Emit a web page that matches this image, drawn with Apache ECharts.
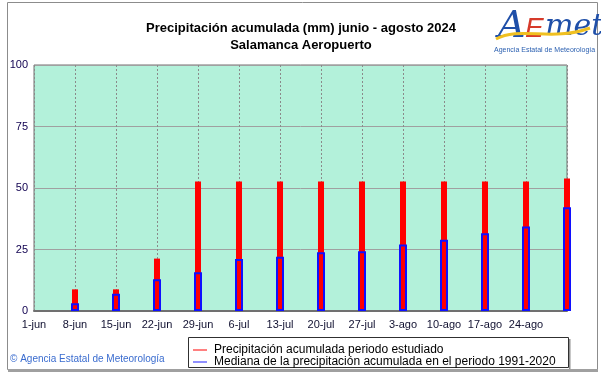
<!DOCTYPE html>
<html><head><meta charset="utf-8">
<script src="https://cdn.jsdelivr.net/npm/echarts@6/dist/echarts.min.js"></script>
<style>html,body{margin:0;padding:0;background:#fff}#c{width:601px;height:374px}</style>
</head><body><div id="c"></div>
<script>
var tickLabels = ['1-jun','8-jun','15-jun','22-jun','29-jun','6-jul','13-jul','20-jul','27-jul','3-ago','10-ago','17-ago','24-ago'];
var barDates = ['8-jun','15-jun','22-jun','29-jun','6-jul','13-jul','20-jul','27-jul','3-ago','10-ago','17-ago','24-ago','31-ago'];
var barDays = [7,14,21,28,35,42,49,56,63,70,77,84,91];
var observed = [8.8,8.8,21.3,52.6,52.6,52.6,52.6,52.6,52.6,52.6,52.6,52.6,53.9];
var median = [3.1,7.0,12.9,15.8,21.1,22.1,23.9,24.3,27.0,29.0,31.6,34.3,42.2];
var yTicks = [0,25,50,75,100];
var nameObs = 'Precipitación acumulada periodo estudiado';
var nameMed = 'Mediana de la precipitación acumulada en el periodo 1991-2020';

var chart = echarts.init(document.getElementById('c'), null, {renderer:'canvas'});
function pairs(vals){ return barDays.map(function(d,i){ return [d, vals[i]]; }); }
var font = 'Arial, "Liberation Sans", sans-serif';
var xAxisBase = {
  type:'value', min:0, max:91, interval:7,
  axisLine:{show:true, lineStyle:{color:'#707070', width:2}},
  axisTick:{show:false},
  axisLabel:{color:'#101030', fontFamily:font, fontSize:11, margin:8,
    formatter:function(v){ var i=Math.round(v/7); return tickLabels[i]||''; }},
  splitLine:{show:true, lineStyle:{color:'#8a8a8a', type:[2,2], width:1}}
};
chart.setOption({
  animation:false,
  backgroundColor:'#ffffff',
  title:{text:'Precipitación acumulada (mm) junio - agosto 2024\nSalamanca Aeropuerto', left:296, textAlign:'center', top:15,
    textStyle:{fontFamily:font, fontSize:13, fontWeight:'bold', color:'#000', lineHeight:17}},
  grid:{left:34, right:34, top:65, bottom:63, show:true, backgroundColor:'#b3f1da', borderColor:'#707070', borderWidth:1},
  xAxis:[xAxisBase, Object.assign({}, xAxisBase, {show:false, splitLine:{show:false}})],
  yAxis:{type:'value', min:0, max:100, interval:25,
    axisLine:{show:false}, axisTick:{show:false},
    axisLabel:{color:'#100050', fontFamily:font, fontSize:11, margin:6,
      formatter:function(v){ return yTicks.indexOf(v)>=0 ? String(v) : ''; }},
    splitLine:{lineStyle:{color:'#a0a0a0', width:1}}},
  legend:{left:188, top:344, orient:'vertical', itemGap:0, itemWidth:14, itemHeight:1, padding:[0,5],
    textStyle:{fontFamily:font, fontSize:12, color:'#000', lineHeight:11, padding:[0,0,0,2]},
    data:[{name:nameObs, icon:'rect', itemStyle:{color:'#ff0000', borderWidth:0}},
          {name:nameMed, icon:'rect', itemStyle:{color:'#2020ff', borderWidth:0}}]},
  series:[
    {name:nameObs, type:'bar', xAxisIndex:0, barWidth:6, data:pairs(observed),
      itemStyle:{color:'#ff0000'}},
    {name:nameMed, type:'bar', xAxisIndex:1, barWidth:8, data:pairs(median), z:3,
      itemStyle:{color:'rgba(0,0,0,0)', borderColor:'#1010ff', borderWidth:2}}
  ],
  graphic:[
    {type:'rect', shape:{x:7.5, y:2.5, width:590, height:367}, style:{fill:null, stroke:'#8c8c8c', lineWidth:1}, silent:true},
    {type:'rect', shape:{x:8, y:369, width:590, height:3}, style:{fill:'#a0a0a0'}, silent:true},
    {type:'rect', shape:{x:188.5, y:337.5, width:380, height:30}, style:{fill:null, stroke:'#303030', lineWidth:1}, silent:true},
    {type:'rect', shape:{x:569, y:339, width:1.5, height:30}, style:{fill:'#909090'}, silent:true},
    {type:'text', left:10, top:354, style:{text:'© Agencia Estatal de Meteorología', fill:'#3a6ccf', font:'10px '+font}},
    {type:'text', left:498, top:8, style:{text:'A', fill:'#1f4fa8', font:'italic 38px "DejaVu Serif", serif'}},
    {type:'text', left:525, top:15, style:{text:'E', fill:'#d63a2a', font:'italic 28px '+font}},
    {type:'text', left:545, top:12, style:{text:'met', fill:'#1f4fa8', font:'italic 30px "DejaVu Serif", serif'}},
    {type:'bezierCurve', shape:{x1:496, y1:39, x2:590, y2:28, cpx1:520, cpy1:26, cpx2:552, cpy2:42}, style:{stroke:'#f0c020', lineWidth:3, fill:null}},
    {type:'text', left:494, top:47, style:{text:'Agencia Estatal de Meteorología', fill:'#2a5fb0', font:'7px '+font}}
  ]
});
</script></body></html>
